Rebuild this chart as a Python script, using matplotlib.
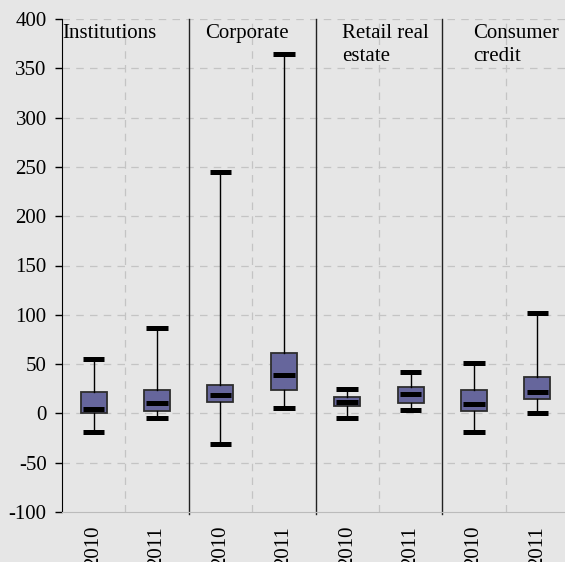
import matplotlib
matplotlib.use("Agg")
import matplotlib.pyplot as plt

groups = ["Institutions", "Corporate", "Retail real\nestate", "Consumer\ncredit"]
years = ["2010", "2011", "2010", "2011", "2010", "2011", "2010", "2011"]
whislo = [-19, -5, -31, 5.5, -4.7, 3.4, -19, 0.4]
q1 = [0, 2.4, 12, 23.4, 7.2, 10.9, 2.8, 14.3]
med = [4, 11, 19, 39, 12, 19.4, 10, 21.4]
q3 = [22, 24, 29, 61, 16.3, 26.5, 23.7, 36.6]
whishi = [55, 87, 245, 365, 25, 41.7, 51, 102]

plt.rcParams['font.family'] = ['Liberation Serif', 'DejaVu Serif']
plt.rcParams['axes.unicode_minus'] = False
bg = "#E6E6E6"
fig = plt.figure(figsize=(5.65, 5.62), dpi=100, facecolor=bg)
ax = fig.add_axes([62/565, 50/562, 507/565, 493/562], facecolor=bg)

stats = []
for i in range(len(years)):
    stats.append(dict(whislo=whislo[i], q1=q1[i], med=med[i], q3=q3[i], whishi=whishi[i], label=years[i]))

pos = list(range(len(years)))
ax.bxp(stats, positions=pos, widths=0.41, capwidths=0.34, showfliers=False, patch_artist=True,
       boxprops=dict(facecolor="#66669C", edgecolor="#2E2E2E", linewidth=1.3),
       whiskerprops=dict(color="black", linewidth=1.0),
       capprops=dict(color="black", linewidth=3.6, solid_capstyle='butt'),
       medianprops=dict(linewidth=0),
       zorder=3)
ax.hlines(med, [p - 0.17 for p in pos], [p + 0.17 for p in pos], colors="black", linewidth=3.6, zorder=4)

ax.set_xlim(-0.5, 7.5)
ax.set_ylim(-100, 400)
ax.set_yticks(range(-100, 401, 50))
ax.set_xticks(pos)
ax.set_xticklabels(years, rotation=90, va='top', ha='center')

ax.grid(False)
for y in range(-50, 401, 50):
    ax.axhline(y, color="#C4C4C4", linestyle=(0, (6, 5)), linewidth=0.9, zorder=1)
for x in [0.5, 2.5, 4.5, 6.5]:
    ax.axvline(x, color="#C4C4C4", linestyle=(0, (6, 5)), linewidth=0.9, zorder=1)
for x in [1.5, 3.5, 5.5]:
    ax.plot([x, x], [-102, 400], color="#222222", linewidth=1.0, zorder=2, clip_on=False)

for s in ["top", "right"]:
    ax.spines[s].set_visible(False)
ax.spines["bottom"].set_color("#BBBBBB")
ax.spines["left"].set_color("black")
ax.tick_params(axis='y', direction='out', length=5, width=1, labelsize=15, colors='black', pad=6)
ax.tick_params(axis='x', length=0, labelsize=15, pad=10)

label_x = [-0.49, 1.76, 3.92, 5.99]
for gx, g in zip(label_x, groups):
    ax.text(gx, 395, g, ha='left', va='top', fontsize=15, linespacing=1.32, zorder=4)

fig.savefig("out.png", dpi=100, facecolor=bg)
